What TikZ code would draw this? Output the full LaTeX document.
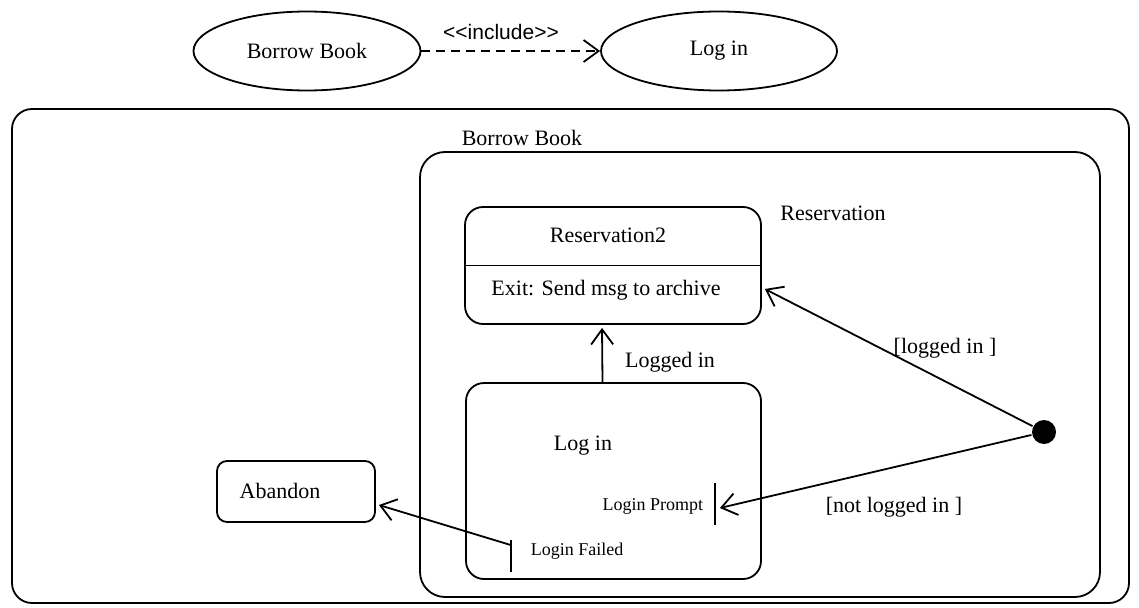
\documentclass[tikz,border=0pt]{standalone}
\usepackage{fontspec}
\setmainfont{Liberation Serif}
\newfontfamily\arialfont{Liberation Sans}
\usetikzlibrary{arrows.meta,calc,shapes.geometric}

\begin{document}
\begin{tikzpicture}[x=1pt,y=-1pt,
  line width=1.8pt,
  font=\fontsize{22}{26}\selectfont,
  usecase/.style={draw, ellipse, minimum width=#1, minimum height=79pt, inner sep=0pt},
  region/.style={draw, rectangle, rounded corners=#1, inner sep=0pt},
  label/.style={inner sep=0pt},
  small/.style={inner sep=0pt, font=\fontsize{18}{21}\selectfont},
  portbar/.style={fill=black, inner sep=0pt, minimum width=2pt},
  open/.style={-{Straight Barb[length=15pt,width=22pt,line width=1.8pt]}},
  initial/.style={circle, fill=black, inner sep=0pt, minimum width=24pt, minimum height=22pt}
]
\useasboundingbox (0,0) rectangle (1139,607);

% use cases
\node[usecase=227pt] (bb) at (307,51) {Borrow Book};
\node[usecase=236pt] (li) at (719,51) {Log in};
\draw[open, dash pattern=on 9pt off 6pt] (bb.east) -- (li.west);
\node[label, font=\arialfont\fontsize{21}{24}\selectfont] (inc) at (501,32) {<{}<include>{}>};

% activity frames
\node[region=20pt, minimum width=1117pt, minimum height=494pt] (outer) at (570.5,356) {};
\node[label] (outerlbl) at (522,138) {Borrow Book};
\node[region=25pt, minimum width=680pt, minimum height=445pt] (resv) at (760,374.5) {};
\node[label] (resvlbl) at (833,213) {Reservation};

% Reservation2 state with exit action
\node[region=18pt, minimum width=296pt, minimum height=117pt] (res2) at (613,265.5) {};
\draw (res2.west) -- (res2.east);
\node[label] (res2name) at (608,235) {Reservation2};
\node[label] (res2exit) at (606,290) {Exit: Send msg to archive};

% Log in state with its entry and exit points
\node[region=18pt, minimum width=295pt, minimum height=196pt] (login) at (613.5,481) {};
\node[label] (loginname) at (583,446) {Log in};
\node[portbar, minimum height=42pt] (prompt) at (715,503.5) {};
\node[small, anchor=east] (promptlbl) at (704,506) {Login Prompt};
\node[portbar, minimum height=32pt] (failed) at (511,556) {};
\node[small, anchor=west] (failedlbl) at (530,551) {Login Failed};

% Abandon state
\node[region=10pt, minimum width=158pt, minimum height=61pt] (abandon) at (296,491.5) {};
\node[label] (abandonlbl) at (280,491) {Abandon};

% initial pseudo-state
\node[initial] (init) at (1044,432) {};

% transitions
\draw[open] ($(login.north)+(-11,0)$) -- ($(res2.south)+(-11,3)$);
\node[label] (loggedin) at (670,362) {Logged in};
\draw[open] (init) -- ($(res2.east)+(3,23.5)$);
\node[label] (guard1) at (945,348) {[logged in ]};
\draw[open] (init) -- ($(prompt.east)+(3,4.5)$);
\node[label] (guard2) at (894,507) {[not logged in ]};
\draw[open] ($(failed.north)+(0,6)$) -- ($(abandon.east)+(3,13.5)$);
\end{tikzpicture}
\end{document}
